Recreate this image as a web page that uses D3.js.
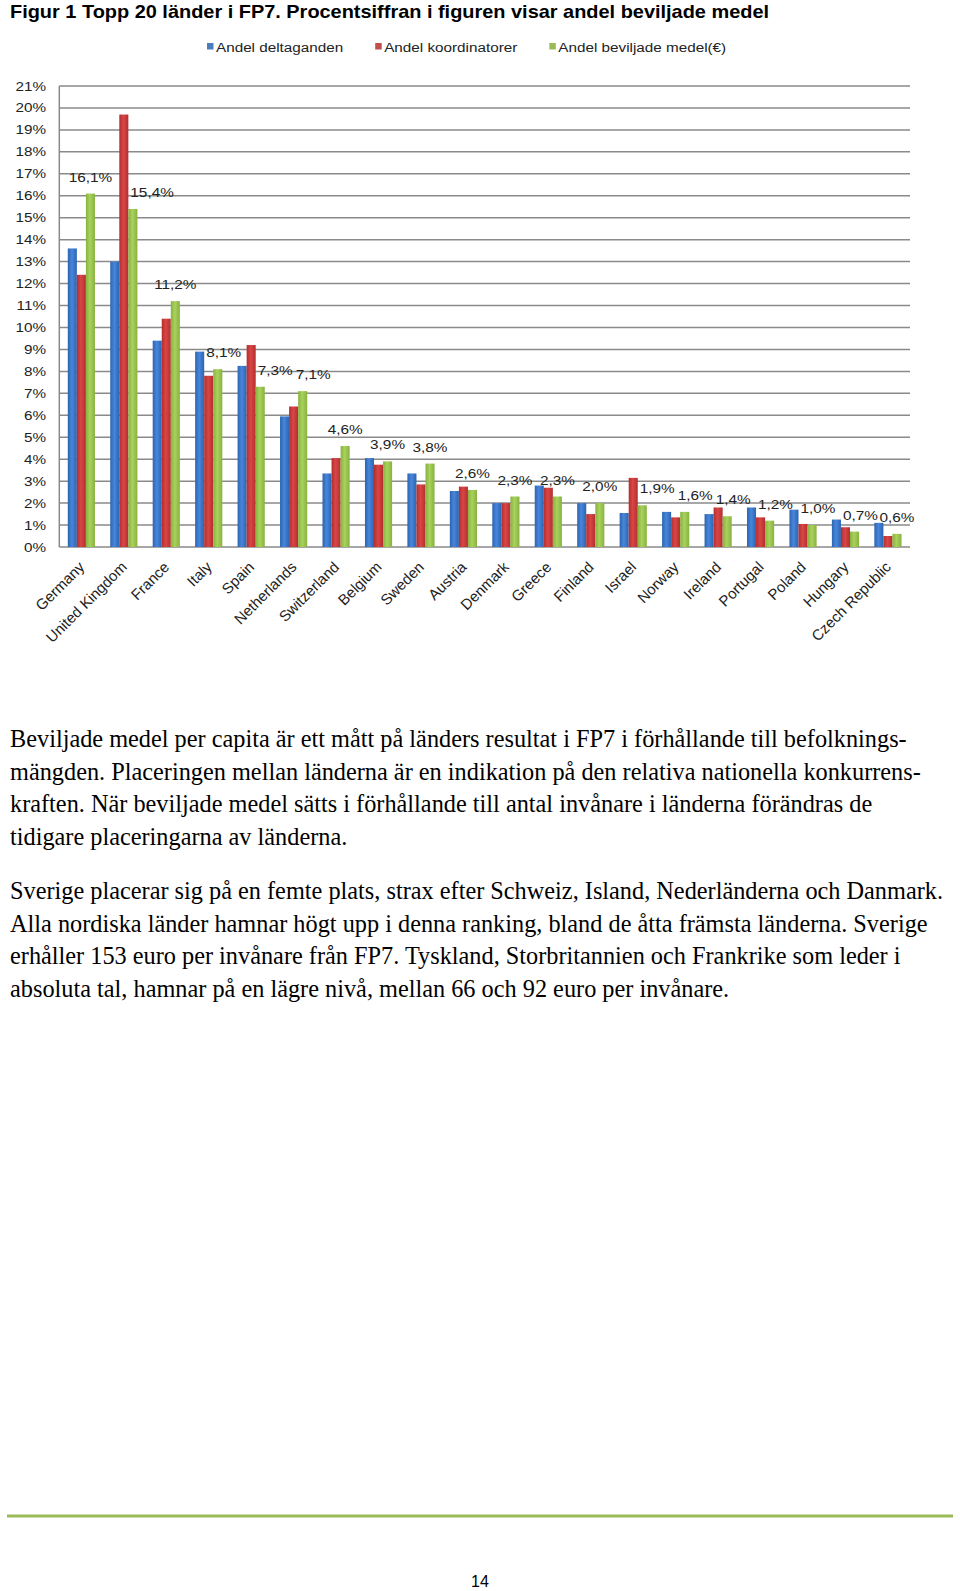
<!DOCTYPE html>
<html>
<head>
<meta charset="utf-8">
<script src="https://cdn.jsdelivr.net/npm/d3@7"></script>
<style>
  body { margin: 0; background: #fff; }
  svg { display: block; }
</style>
</head>
<body>
<div id="app"></div>
<script>
const countries = ["Germany", "United Kingdom", "France", "Italy", "Spain", "Netherlands",
  "Switzerland", "Belgium", "Sweden", "Austria", "Denmark", "Greece", "Finland", "Israel",
  "Norway", "Ireland", "Portugal", "Poland", "Hungary", "Czech Republic"];
const deltaganden = [13.6, 13.0, 9.4, 8.9, 8.25, 5.95, 3.35, 4.05, 3.35, 2.55, 2.0, 2.8, 2.0, 1.55, 1.6, 1.5, 1.8, 1.7, 1.25, 1.1];
const koordinatorer = [12.4, 19.7, 10.4, 7.8, 9.2, 6.4, 4.05, 3.75, 2.85, 2.75, 2.0, 2.7, 1.5, 3.15, 1.35, 1.8, 1.35, 1.05, 0.9, 0.5];
const beviljade = [16.1, 15.4, 11.2, 8.1, 7.3, 7.1, 4.6, 3.9, 3.8, 2.6, 2.3, 2.3, 2.0, 1.9, 1.6, 1.4, 1.2, 1.0, 0.7, 0.6];
const seriesNames = ["Andel deltaganden", "Andel koordinatorer", "Andel beviljade medel(€)"];
const yTicks = d3.range(0, 22);

const title = "Figur 1 Topp 20 länder i FP7. Procentsiffran i figuren visar andel beviljade medel";
const paragraph1 = [
  "Beviljade medel per capita är ett mått på länders resultat i FP7 i förhållande till befolknings-",
  "mängden. Placeringen mellan länderna är en indikation på den relativa nationella konkurrens-",
  "kraften. När beviljade medel sätts i förhållande till antal invånare i länderna förändras de",
  "tidigare placeringarna av länderna."
];
const paragraph2 = [
  "Sverige placerar sig på en femte plats, strax efter Schweiz, Island, Nederländerna och Danmark.",
  "Alla nordiska länder hamnar högt upp i denna ranking, bland de åtta främsta länderna. Sverige",
  "erhåller 153 euro per invånare från FP7. Tyskland, Storbritannien och Frankrike som leder i",
  "absoluta tal, hamnar på en lägre nivå, mellan 66 och 92 euro per invånare."
];
const pageNumber = "14";

const width = 960;
const height = 1591;
const plot = { left: 59.3, right: 910, top: 86, bottom: 547 };
const barColors = [["#2c64b0", "#4786dc"], ["#b32e2e", "#d94646"], ["#88b23f", "#a8d25c"]];
const legendColors = ["#4a7ebb", "#c0504d", "#9bbb59"];
const sansFont = "'Liberation Sans', Arial, sans-serif";
const serifFont = "'Liberation Serif', 'Times New Roman', serif";
const stretch = 1.22;

const svg = d3.select("#app").append("svg")
  .attr("width", width)
  .attr("height", height);

svg.append("rect").attr("width", width).attr("height", height).attr("fill", "#fff");

// chart text in the reference is horizontally widened
function widen(sel, k) {
  sel.each(function () {
    const w = this.getComputedTextLength();
    this.setAttribute("textLength", w * k);
    this.setAttribute("lengthAdjust", "spacingAndGlyphs");
  });
}

const defs = svg.append("defs");
barColors.forEach((c, i) => {
  const g = defs.append("linearGradient")
    .attr("id", `bar${i}`)
    .attr("x1", 0).attr("x2", 1).attr("y1", 0).attr("y2", 0);
  g.append("stop").attr("offset", "0%").attr("stop-color", c[0]);
  g.append("stop").attr("offset", "45%").attr("stop-color", c[1]);
  g.append("stop").attr("offset", "100%").attr("stop-color", c[0]);
});

svg.append("text")
  .text(title)
  .attr("x", 10)
  .attr("y", 18)
  .attr("font-family", sansFont)
  .attr("font-weight", "bold")
  .attr("font-size", 19)
  .attr("textLength", 759)
  .attr("lengthAdjust", "spacingAndGlyphs")
  .attr("fill", "#000");

const x0 = d3.scaleBand()
  .domain(countries)
  .range([plot.left, plot.right])
  .paddingInner(0.36)
  .paddingOuter(0.2);

const x1 = d3.scaleBand()
  .domain([0, 1, 2])
  .range([0, x0.bandwidth()]);

const y = d3.scaleLinear()
  .domain([0, 21])
  .range([plot.bottom, plot.top]);

// gridlines
svg.append("g")
  .selectAll("line")
  .data(yTicks)
  .enter()
  .append("line")
  .attr("x1", plot.left)
  .attr("x2", plot.right)
  .attr("y1", (d) => y(d))
  .attr("y2", (d) => y(d))
  .attr("stroke", "#8a8a8a")
  .attr("stroke-width", 1.5);

svg.append("line")
  .attr("x1", plot.left).attr("x2", plot.left)
  .attr("y1", y(21)).attr("y2", y(0))
  .attr("stroke", "#8a8a8a")
  .attr("stroke-width", 1.5);

const yLabels = svg.append("g")
  .selectAll("text")
  .data(yTicks)
  .enter()
  .append("text")
  .text((d) => `${d}%`)
  .attr("x", 46)
  .attr("y", (d) => y(d) + 4.5)
  .attr("text-anchor", "end")
  .attr("font-family", sansFont)
  .attr("font-size", 12.5)
  .attr("fill", "#222");
widen(yLabels, stretch);

const series = [deltaganden, koordinatorer, beviljade];
const bars = [];
series.forEach((values, s) => {
  values.forEach((v, i) => {
    bars.push({ s, i, v, country: countries[i] });
  });
});

svg.append("g")
  .selectAll("rect")
  .data(bars)
  .enter()
  .append("rect")
  .attr("x", (d) => x0(d.country) + x1(d.s))
  .attr("y", (d) => y(d.v))
  .attr("width", x1.bandwidth())
  .attr("height", (d) => y(0) - y(d.v))
  .attr("fill", (d) => `url(#bar${d.s})`);

// value labels for the green series, nudged right when they hit a bar or the previous label
const fmt = d3.formatLocale({ decimal: ",", thousands: " ", grouping: [3], currency: ["", ""] }).format(".1f");
const placed = [];
const valueLabels = svg.append("g")
  .selectAll("text")
  .data(beviljade)
  .enter()
  .append("text")
  .text((d) => `${fmt(d)}%`)
  .attr("font-family", sansFont)
  .attr("font-size", 13)
  .attr("fill", "#222")
  .attr("text-anchor", "start");
widen(valueLabels, 1.18);
valueLabels.each(function (d, i) {
  const w = +this.getAttribute("textLength");
  const base = y(d) - 12;
  const cx = x0(countries[i]) + x1(2) + x1.bandwidth() / 2;
  let left = cx - w / 2;
  const top = base - 10;
  for (let pass = 0; pass < 4; pass++) {
    let moved = false;
    bars.forEach((b) => {
      if (Math.abs(b.i - i) > 1) return;
      const bx = x0(b.country) + x1(b.s);
      const bw = x1.bandwidth();
      if (y(b.v) < base + 1 && bx < left + w && bx + bw > left && bx + bw < cx + w) {
        left = bx + bw + 2;
        moved = true;
      }
    });
    placed.forEach((p) => {
      if (p.top < base + 1 && p.base > top && p.left < left + w && p.right > left) {
        left = p.right + 3;
        moved = true;
      }
    });
    if (!moved) break;
  }
  placed.push({ left, right: left + w, top, base });
  d3.select(this).attr("x", left).attr("y", base);
});

// category labels
svg.append("g")
  .selectAll("text")
  .data(countries)
  .enter()
  .append("text")
  .text((d) => d)
  .attr("transform", (d) => `translate(${x0(d) + x0.bandwidth() / 2 + 4}, 568) rotate(-45)`)
  .attr("text-anchor", "end")
  .attr("font-family", sansFont)
  .attr("font-size", 15)
  .attr("fill", "#222");

// legend
const legend = svg.append("g").attr("id", "legend");
let lx = 207;
seriesNames.forEach((name, i) => {
  legend.append("rect")
    .attr("x", lx)
    .attr("y", 43)
    .attr("width", 6.5)
    .attr("height", 6.5)
    .attr("fill", legendColors[i]);
  const t = legend.append("text")
    .text(name)
    .attr("x", lx + 9)
    .attr("y", 51.5)
    .attr("font-family", sansFont)
    .attr("font-size", 12.5)
    .attr("fill", "#222");
  widen(t, stretch);
  lx = lx + 9 + (+t.attr("textLength")) + 32;
});

// body text
const lineGap = 32.6;
svg.append("g")
  .selectAll("text")
  .data(paragraph1.map((t, i) => ({ t, y: 747 + i * lineGap }))
    .concat(paragraph2.map((t, i) => ({ t, y: 899 + i * lineGap }))))
  .enter()
  .append("text")
  .text((d) => d.t)
  .attr("x", 10)
  .attr("y", (d) => d.y)
  .attr("font-family", serifFont)
  .attr("font-size", 24.3)
  .attr("fill", "#000");

svg.append("line")
  .attr("x1", 7).attr("x2", 953)
  .attr("y1", 1516).attr("y2", 1516)
  .attr("stroke", "#9bbb59")
  .attr("stroke-width", 3);

svg.append("text")
  .text(pageNumber)
  .attr("x", 480)
  .attr("y", 1587)
  .attr("text-anchor", "middle")
  .attr("font-family", sansFont)
  .attr("font-size", 16)
  .attr("fill", "#000");
</script>
</body>
</html>
